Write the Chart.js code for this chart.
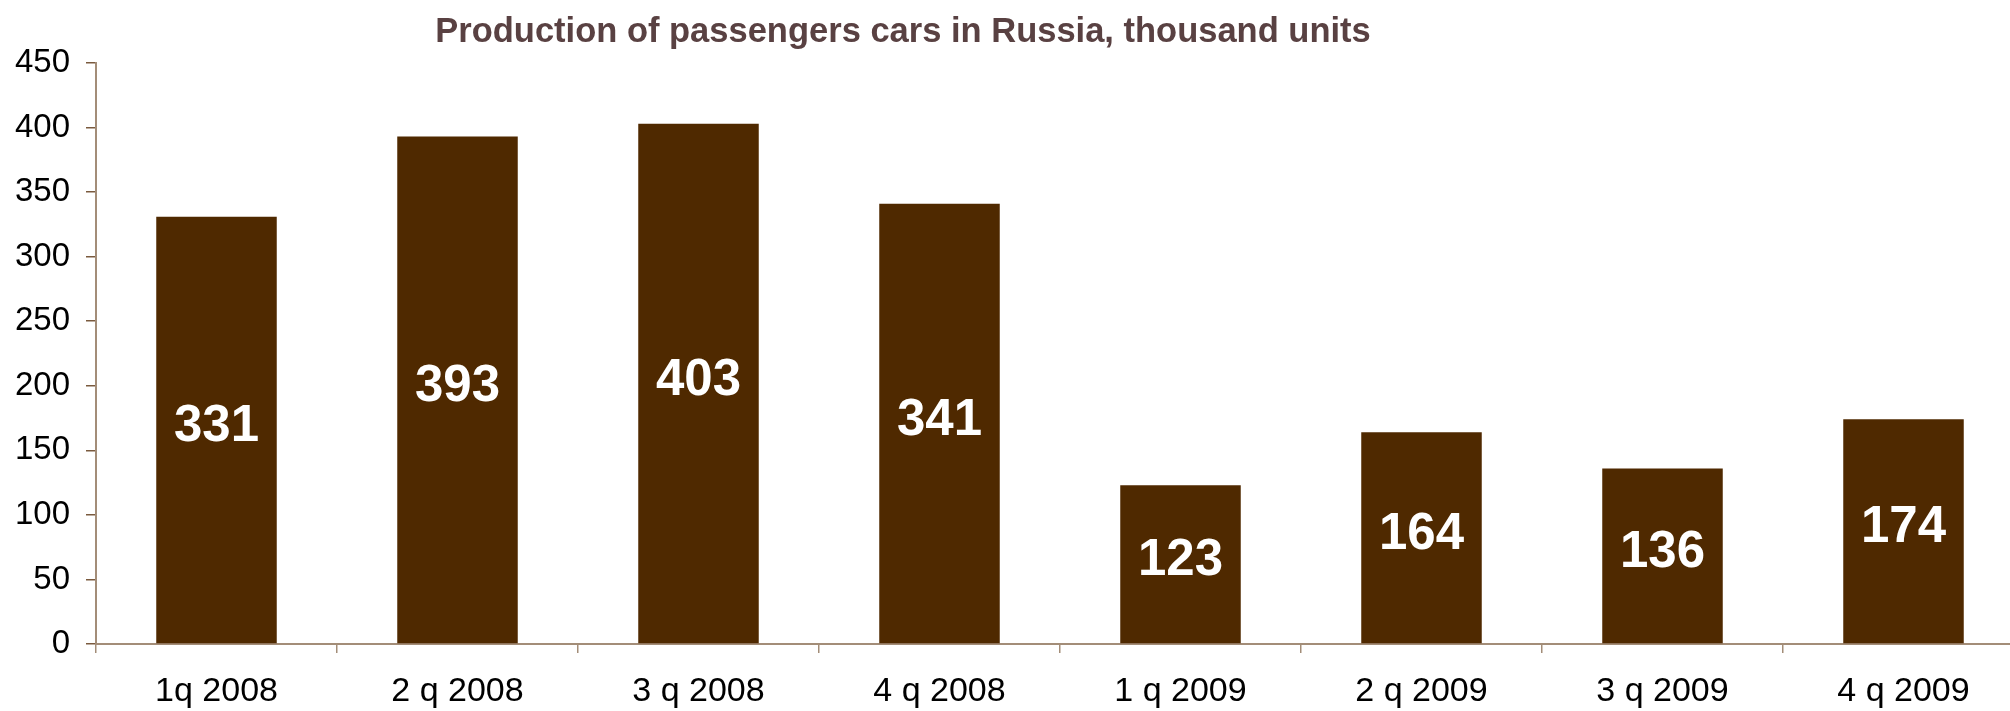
<!DOCTYPE html>
<html>
<head>
<meta charset="utf-8">
<title>Production of passengers cars in Russia</title>
<script src="https://cdn.jsdelivr.net/npm/chart.js@4"></script>
<style>
  html, body { margin: 0; padding: 0; background: #fff; overflow: hidden; }
</style>
</head>
<body>
<canvas id="myChart" width="2024" height="711"></canvas>
<script>
// data
var quarters = ['1q 2008', '2 q 2008', '3 q 2008', '4 q 2008', '1 q 2009', '2 q 2009', '3 q 2009', '4 q 2009'];
var cars = [331, 393, 403, 341, 123, 164, 136, 174];
var yTicks = [0, 50, 100, 150, 200, 250, 300, 350, 400, 450];
var chartTitle = 'Production of passengers cars in Russia, thousand units';

var axisColor = '#a38d78';

// values written in white in the middle of each bar
var barLabels = {
  id: 'barLabels',
  afterDatasetsDraw: function(chart) {
    var ctx = chart.ctx;
    var meta = chart.getDatasetMeta(0);
    ctx.save();
    ctx.fillStyle = '#ffffff';
    ctx.font = 'bold 51px "Liberation Sans", Arial, sans-serif';
    ctx.textAlign = 'center';
    ctx.textBaseline = 'middle';
    meta.data.forEach(function(bar, i) {
      ctx.fillText(String(cars[i]), bar.x, (bar.y + bar.base) / 2 - 3);
    });
    ctx.restore();
  }
};

// title sits left of the canvas centre in the original
var titleAt = {
  id: 'titleAt',
  afterDraw: function(chart) {
    var ctx = chart.ctx;
    ctx.save();
    ctx.fillStyle = '#594142';
    ctx.font = 'bold 34.5px "Liberation Sans", Arial, sans-serif';
    ctx.textAlign = 'center';
    ctx.textBaseline = 'alphabetic';
    ctx.fillText(chartTitle, 903, 42);
    ctx.restore();
  }
};

var ctx = document.getElementById('myChart').getContext('2d');
var myChart = new Chart(ctx, {
  type: 'bar',
  data: {
    labels: quarters,
    datasets: [{
      label: 'thousand units',
      data: cars,
      backgroundColor: '#4f2900',
      borderWidth: 0,
      barPercentage: 0.5,
      categoryPercentage: 1.0
    }]
  },
  options: {
    responsive: false,
    animation: false,
    layout: { padding: { top: 63, left: 0, right: 0, bottom: 0 } },
    plugins: {
      legend: { display: false },
      title: { display: false },
      tooltip: { enabled: false }
    },
    scales: {
      x: {
        grid: {
          drawOnChartArea: false,
          color: axisColor,
          tickLength: 9,
          lineWidth: 1.5
        },
        border: { color: axisColor, width: 2 },
        ticks: {
          color: '#000000',
          padding: 18,
          maxRotation: 0,
          font: { family: '"Liberation Sans", Arial, sans-serif', size: 34 }
        },
        afterFit: function(scale) { scale.height = 67; }
      },
      y: {
        min: 0,
        max: 450,
        afterBuildTicks: function(scale) {
          scale.ticks = yTicks.map(function(v) { return { value: v }; });
        },
        grid: {
          drawOnChartArea: false,
          color: '#7a5a3e',
          tickLength: 10,
          lineWidth: 1.5
        },
        border: { color: axisColor, width: 2 },
        ticks: {
          color: '#000000',
          padding: 16,
          font: { family: '"Liberation Sans", Arial, sans-serif', size: 33 }
        },
        afterFit: function(scale) { scale.width = 96; }
      }
    }
  },
  plugins: [barLabels, titleAt]
});
</script>
</body>
</html>
